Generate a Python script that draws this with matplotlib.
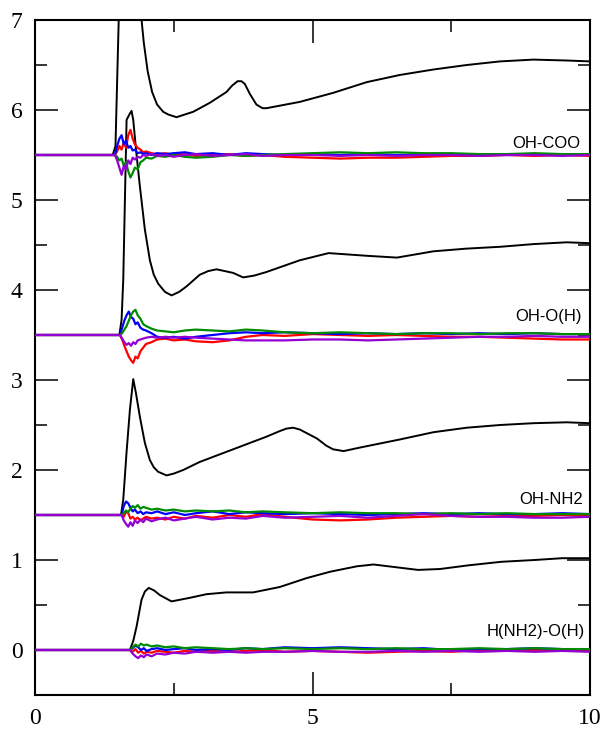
import numpy as np
import matplotlib
matplotlib.use('Agg')
import matplotlib.pyplot as plt
from matplotlib.ticker import MultipleLocator

plt.rcParams['font.family'] = ['Liberation Serif', 'DejaVu Serif']

# ---- data ----
names = ['OH-COO', 'OH-O(H)', 'OH-NH2', 'H(NH2)-O(H)']
offsets = [5.5, 3.5, 1.5, 0.0]
label_x = [9.83, 9.85, 9.87, 9.90]
label_y = [5.575, 3.65, 1.62, 0.155]

# black curves (absolute values on the plot)
k1_r = [0, 1.40, 1.45, 1.50, 1.55, 1.62, 1.70, 1.78, 1.86, 1.92, 1.96, 2.03, 2.11, 2.20, 2.31,
        2.40, 2.55, 2.85, 3.15, 3.45, 3.55, 3.65, 3.72, 3.78, 3.87, 3.99, 4.10, 4.17, 4.77,
        5.37, 5.98, 6.58, 7.18, 7.78, 8.38, 8.98, 9.58, 10.0]
k1_v = [5.5, 5.5, 5.6, 6.8, 8.0, 9.2, 9.6, 9.0, 7.8, 7.0, 6.75, 6.43, 6.2, 6.06, 5.98,
        5.95, 5.92, 5.98, 6.08, 6.2, 6.27, 6.32, 6.32, 6.29, 6.18, 6.06, 6.02, 6.02, 6.09,
        6.19, 6.31, 6.39, 6.45, 6.5, 6.54, 6.56, 6.55, 6.54]

k2_r = [0, 1.52, 1.56, 1.59, 1.65, 1.70, 1.74, 1.77, 1.83, 1.89, 1.98, 2.07, 2.14, 2.22, 2.34,
        2.46, 2.60, 2.73, 2.97, 3.12, 3.27, 3.42, 3.57, 3.75, 3.95, 4.17, 4.77, 5.29, 5.98,
        6.52, 7.18, 7.78, 8.38, 8.98, 9.58, 10.0]
k2_v = [3.5, 3.5, 3.67, 4.11, 5.89, 5.95, 5.99, 5.89, 5.5, 5.15, 4.67, 4.33, 4.17, 4.07, 3.98,
        3.94, 3.98, 4.04, 4.17, 4.21, 4.23, 4.21, 4.19, 4.14, 4.16, 4.2, 4.33, 4.41, 4.38,
        4.36, 4.43, 4.46, 4.48, 4.51, 4.53, 4.52]

k3_r = [0, 1.55, 1.59, 1.65, 1.71, 1.77, 1.82, 1.89, 1.98, 2.07, 2.14, 2.22, 2.37, 2.50, 2.67,
        2.97, 3.57, 4.17, 4.40, 4.53, 4.65, 4.77, 5.08, 5.25, 5.37, 5.56, 5.86, 6.58, 7.18,
        7.78, 8.38, 8.98, 9.58, 10.0]
k3_v = [1.5, 1.5, 1.67, 2.2, 2.67, 3.01, 2.85, 2.59, 2.3, 2.11, 2.03, 1.98, 1.94, 1.96, 2.0,
        2.09, 2.23, 2.37, 2.43, 2.46, 2.47, 2.45, 2.35, 2.27, 2.23, 2.21, 2.25, 2.34, 2.42,
        2.47, 2.5, 2.52, 2.53, 2.52]

k4_r = [0, 1.71, 1.77, 1.83, 1.92, 1.98, 2.05, 2.15, 2.25, 2.46, 2.79, 3.09, 3.45, 3.93, 4.41,
        4.90, 5.32, 5.80, 6.10, 6.50, 6.90, 7.30, 7.80, 8.40, 9.00, 9.50, 10.0]
k4_v = [0, 0, 0.1, 0.26, 0.56, 0.65, 0.69, 0.66, 0.61, 0.54, 0.58, 0.62, 0.64, 0.64, 0.70,
        0.80, 0.87, 0.93, 0.95, 0.92, 0.89, 0.9, 0.94, 0.98, 1.0, 1.02, 1.02]

# coloured components, deviation from the group baseline
g1 = [0, 1.44, 1.48, 1.52, 1.56, 1.60, 1.64, 1.68, 1.72, 1.76, 1.80, 1.85, 1.90, 1.95, 2.00, 2.10,
      2.20, 2.35, 2.50, 2.70, 2.90, 3.20, 3.50, 3.80, 4.10, 4.50, 5.00, 5.50, 6.00, 6.50, 7.00,
      7.50, 8.00, 8.50, 9.00, 9.50, 10.0]
g1_red = [0, 0, 0.04, 0.10, 0.06, 0.14, 0.08, 0.22, 0.28, 0.18, 0.12, 0.08, 0.06, 0.03, 0.04, 0.02,
          0.01, 0.02, 0.00, 0.01, -0.01, 0.00, 0.01, -0.01, 0.00, -0.02, -0.03, -0.04, -0.03, -0.03,
          -0.02, -0.01, -0.01, 0.00, -0.01, 0.00, -0.01]
g1_blue = [0, 0, 0.10, 0.18, 0.22, 0.12, 0.16, 0.08, 0.10, 0.05, 0.06, 0.02, 0.03, 0.01, 0.02, 0.00,
           0.02, 0.01, 0.02, 0.03, 0.01, 0.02, 0.00, 0.02, 0.01, 0.00, 0.01, 0.00, 0.01, 0.00, 0.00,
           0.01, 0.01, 0.00, 0.01, 0.01, 0.01]
g1_green = [0, 0, -0.02, -0.06, -0.04, -0.12, -0.08, -0.18, -0.25, -0.20, -0.14, -0.16, -0.08, -0.06,
            -0.03, -0.04, -0.01, -0.02, 0.00, -0.02, -0.03, -0.02, 0.00, -0.01, 0.00, 0.01, 0.02,
            0.03, 0.02, 0.03, 0.02, 0.02, 0.01, 0.01, 0.02, 0.01, 0.01]
g1_violet = [0, 0, -0.06, -0.14, -0.22, -0.12, -0.16, -0.06, -0.10, -0.03, -0.05, -0.02, -0.03, 0.00,
             -0.01, 0.01, -0.01, 0.00, -0.02, 0.00, 0.01, -0.01, 0.00, 0.01, -0.01, 0.00, 0.00,
             -0.01, 0.00, -0.01, 0.00, 0.00, -0.01, 0.00, 0.00, -0.01, 0.00]

g2 = [0, 1.53, 1.57, 1.61, 1.65, 1.69, 1.73, 1.77, 1.81, 1.85, 1.90, 1.95, 2.00, 2.10, 2.20, 2.35,
      2.50, 2.70, 2.90, 3.20, 3.50, 3.80, 4.10, 4.50, 5.00, 5.50, 6.00, 6.50, 7.00, 7.50, 8.00,
      8.50, 9.00, 9.50, 10.0]
g2_red = [0, 0, -0.05, -0.12, -0.18, -0.24, -0.28, -0.31, -0.24, -0.26, -0.18, -0.14, -0.10, -0.08,
          -0.05, -0.04, -0.06, -0.05, -0.07, -0.08, -0.06, -0.02, 0.00, -0.01, 0.01, 0.00, -0.01,
          0.00, -0.01, -0.02, -0.02, -0.03, -0.04, -0.05, -0.05]
g2_blue = [0, 0, 0.08, 0.16, 0.22, 0.26, 0.20, 0.18, 0.12, 0.14, 0.08, 0.06, 0.05, 0.02, -0.02, -0.03,
           -0.02, -0.04, -0.02, 0.00, 0.02, 0.03, 0.02, 0.03, 0.02, 0.01, 0.02, 0.01, 0.02, 0.01,
           0.02, 0.01, 0.02, 0.01, 0.01]
g2_green = [0, 0, 0.02, 0.06, 0.10, 0.16, 0.22, 0.26, 0.28, 0.22, 0.18, 0.12, 0.10, 0.07, 0.05, 0.04,
            0.03, 0.05, 0.06, 0.05, 0.04, 0.06, 0.05, 0.03, 0.02, 0.03, 0.02, 0.01, 0.02, 0.02,
            0.01, 0.02, 0.02, 0.01, 0.01]
g2_violet = [0, 0, -0.04, -0.08, -0.11, -0.09, -0.12, -0.08, -0.10, -0.06, -0.05, -0.04, -0.03, -0.02,
             -0.03, -0.02, -0.03, -0.02, -0.03, -0.04, -0.05, -0.06, -0.06, -0.06, -0.05, -0.05,
             -0.06, -0.05, -0.04, -0.03, -0.02, -0.02, -0.01, -0.02, -0.02]

g3 = [0, 1.56, 1.60, 1.64, 1.68, 1.72, 1.76, 1.80, 1.85, 1.90, 1.95, 2.00, 2.10, 2.20, 2.35, 2.50,
      2.70, 2.90, 3.20, 3.50, 3.80, 4.10, 4.50, 5.00, 5.50, 6.00, 6.50, 7.00, 7.50, 8.00, 8.50,
      9.00, 9.50, 10.0]
g3_red = [0, 0, -0.02, 0.04, 0.02, -0.04, -0.02, -0.05, -0.03, -0.06, -0.04, -0.02, -0.04, -0.03,
          -0.05, -0.02, -0.04, -0.01, -0.03, 0.00, -0.02, 0.01, -0.02, -0.05, -0.06, -0.05, -0.03,
          -0.02, -0.01, -0.02, -0.01, -0.01, 0.00, -0.01]
g3_blue = [0, 0, 0.10, 0.15, 0.13, 0.08, 0.04, 0.06, 0.02, 0.04, 0.01, 0.03, 0.02, 0.04, 0.01, 0.03,
           0.00, 0.02, 0.04, 0.01, 0.03, 0.02, 0.01, 0.02, 0.01, 0.00, 0.01, 0.02, 0.01, 0.02,
           0.01, 0.01, 0.02, 0.01]
g3_green = [0, 0, 0.02, 0.05, 0.03, 0.07, 0.10, 0.08, 0.11, 0.07, 0.09, 0.08, 0.06, 0.07, 0.05, 0.06,
            0.04, 0.05, 0.04, 0.05, 0.03, 0.04, 0.03, 0.02, 0.03, 0.02, 0.02, 0.01, 0.02, 0.01,
            0.02, 0.01, 0.01, 0.01]
g3_violet = [0, 0, -0.06, -0.10, -0.13, -0.08, -0.12, -0.06, -0.09, -0.05, -0.08, -0.04, -0.07, -0.05,
             -0.03, -0.06, -0.04, -0.02, -0.05, -0.03, -0.04, -0.01, -0.03, -0.02, -0.01, -0.03,
             -0.01, 0.01, -0.01, -0.02, -0.02, -0.03, -0.03, -0.02]

g4 = [0, 1.71, 1.76, 1.81, 1.86, 1.91, 1.96, 2.01, 2.10, 2.20, 2.35, 2.50, 2.70, 2.90, 3.20, 3.50,
      3.80, 4.10, 4.50, 5.00, 5.50, 6.00, 6.50, 7.00, 7.50, 8.00, 8.50, 9.00, 9.50, 10.0]
g4_red = [0, 0, -0.02, 0.01, -0.03, -0.01, -0.04, -0.02, -0.03, -0.01, -0.02, -0.03, -0.01, -0.02,
          -0.01, -0.02, -0.01, 0.00, -0.02, -0.01, -0.02, -0.03, -0.02, -0.01, -0.02, 0.00, -0.01,
          0.00, -0.01, -0.01]
g4_blue = [0, 0, 0.02, 0.05, 0.03, 0.00, 0.02, -0.01, 0.01, 0.02, 0.00, 0.01, 0.02, 0.00, 0.01, 0.00,
           0.02, 0.01, 0.03, 0.02, 0.03, 0.02, 0.01, 0.02, 0.00, 0.01, 0.01, 0.02, 0.01, 0.01]
g4_green = [0, 0, 0.03, 0.06, 0.04, 0.07, 0.05, 0.06, 0.04, 0.05, 0.03, 0.04, 0.02, 0.03, 0.02, 0.01,
            0.02, 0.01, 0.02, 0.01, 0.02, 0.01, 0.02, 0.01, 0.01, 0.02, 0.01, 0.02, 0.01, 0.01]
g4_violet = [0, 0, -0.04, -0.07, -0.09, -0.06, -0.08, -0.05, -0.07, -0.04, -0.05, -0.03, -0.04, -0.02,
             -0.03, -0.02, -0.03, -0.02, -0.02, -0.01, -0.02, -0.02, -0.01, -0.02, -0.01, -0.02,
             -0.01, -0.02, -0.01, -0.02]

black_curves = [(k1_r, k1_v), (k2_r, k2_v), (k3_r, k3_v), (k4_r, k4_v)]
grids = [g1, g2, g3, g4]
components = [
    [g1_red, g1_blue, g1_green, g1_violet],
    [g2_red, g2_blue, g2_green, g2_violet],
    [g3_red, g3_blue, g3_green, g3_violet],
    [g4_red, g4_blue, g4_green, g4_violet],
]
comp_colors = ['#ff0000', '#0000ff', '#008b00', '#9400d3']

# ---- figure ----
fig = plt.figure(figsize=(6.10, 7.33), dpi=100)
ax = fig.add_axes([35/610, 1 - 695/733, 555/610, 675/733])

for r, v in black_curves:
    ax.plot(r, v, color='black', lw=1.4, zorder=2)

for grid, comps, off in zip(grids, components, offsets):
    for dev, c in zip(comps, comp_colors):
        ax.plot(grid, off + np.array(dev), color=c, lw=1.6, zorder=3)

for name, x, y in zip(names, label_x, label_y):
    ax.text(x, y, name, ha='right', va='baseline', fontsize=12,
            family='Liberation Sans', zorder=5)

ax.set_xlim(0, 10)
ax.set_ylim(-0.5, 7)
ax.xaxis.set_major_locator(MultipleLocator(5))
ax.xaxis.set_minor_locator(MultipleLocator(2.5))
ax.yaxis.set_major_locator(MultipleLocator(1))
ax.yaxis.set_minor_locator(MultipleLocator(0.5))
ax.set_yticks(range(0, 8))

ax.tick_params(which='both', direction='in', top=True, right=True, width=1.1, zorder=6)
ax.tick_params(which='major', length=16.5, pad=9, labelsize=17)
ax.tick_params(which='minor', length=8.5)
for s in ax.spines.values():
    s.set_linewidth(1.5)

fig.savefig('out.png', dpi=100)
